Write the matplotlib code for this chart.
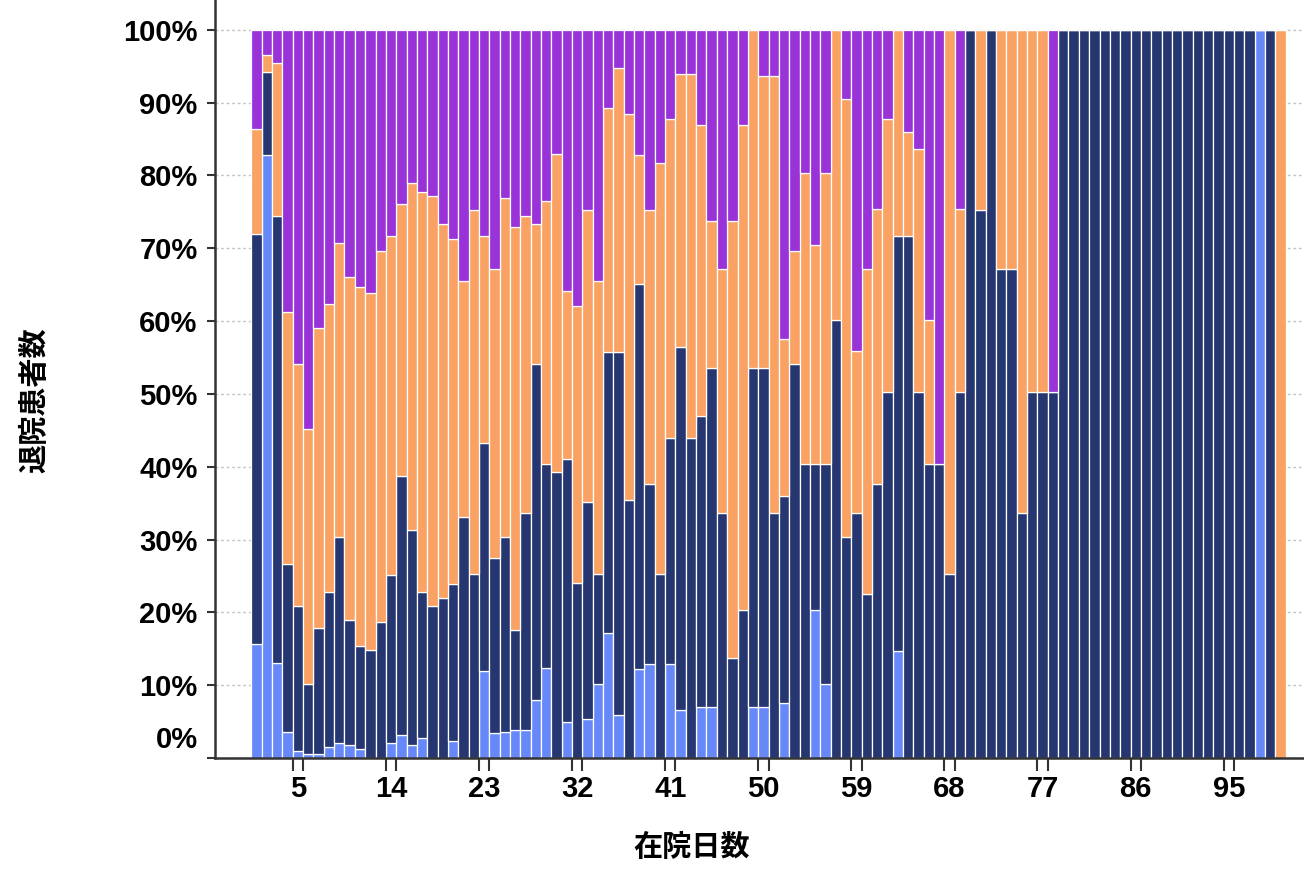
import matplotlib
matplotlib.use('Agg')
import matplotlib.pyplot as plt
import numpy as np

plt.rcParams['font.family'] = ['Liberation Sans', 'Noto Sans CJK JP']
plt.rcParams['font.weight'] = 'bold'

# 在院日数 1..100, 各区分の構成比(%)
days = np.arange(1, 101)

light_blue = [15.6, 82.8, 13.0, 3.6, 0.9, 0.5, 0.5, 1.5, 2.0, 1.8,
              1.2, 0, 0, 2.0, 3.1, 1.8, 2.8, 0, 0, 2.3,
              0, 0, 11.9, 3.5, 3.6, 3.9, 3.9, 8.0, 12.4, 0,
              5.0, 0, 5.3, 10.2, 17.1, 5.9, 0, 12.2, 12.9, 0,
              12.9, 6.6, 0, 7.0, 7.0, 0, 0, 0, 7.0, 7.0,
              0, 7.5, 0, 0, 20.3, 10.2, 0, 0, 0, 0,
              0, 0, 14.7, 0, 0, 0, 0, 0, 0, 0,
              0, 0, 0, 0, 0, 0, 0, 0, 0, 0,
              0, 0, 0, 0, 0, 0, 0, 0, 0, 0,
              0, 0, 0, 0, 0, 0, 0, 100, 0, 0]

navy = [56.4, 11.4, 61.5, 23.0, 20.0, 9.6, 17.4, 21.3, 28.3, 17.1,
        14.2, 14.9, 18.7, 23.1, 35.6, 29.5, 20.0, 20.9, 22.0, 21.6,
        33.1, 25.3, 31.3, 24.0, 26.7, 13.7, 29.7, 46.1, 28.0, 39.3,
        36.1, 24.1, 29.8, 15.1, 38.6, 49.8, 35.5, 52.9, 24.7, 25.3,
        31.1, 49.9, 44.0, 39.9, 46.5, 33.6, 13.7, 20.3, 46.5, 46.5,
        33.6, 28.5, 54.1, 40.4, 20.1, 30.2, 60.2, 30.3, 33.6, 22.5,
        37.6, 50.2, 57.0, 71.7, 50.2, 40.4, 40.4, 25.3, 50.2, 100,
        75.3, 100, 67.1, 67.1, 33.6, 50.2, 50.2, 50.2, 100, 100,
        100, 100, 100, 100, 100, 100, 100, 100, 100, 100,
        100, 100, 100, 100, 100, 100, 100, 0, 100, 0]

orange = [14.4, 2.3, 20.9, 34.7, 33.2, 35.1, 41.2, 39.6, 40.4, 47.1,
          49.3, 48.9, 50.9, 46.6, 37.4, 47.6, 55.0, 56.3, 51.3, 47.4,
          32.4, 50.0, 28.5, 39.6, 46.6, 55.3, 40.9, 19.2, 36.1, 43.7,
          23.0, 38.0, 40.2, 40.2, 33.6, 39.1, 53.0, 17.7, 37.7, 56.4,
          43.7, 37.4, 49.9, 40.0, 20.2, 33.5, 60.0, 66.6, 46.5, 40.2,
          60.1, 21.6, 15.5, 40.0, 30.0, 40.0, 39.8, 60.2, 22.3, 44.6,
          37.8, 37.5, 28.3, 14.3, 33.4, 19.8, 0, 74.7, 25.2, 0,
          24.7, 0, 32.9, 32.9, 66.4, 49.8, 49.8, 0, 0, 0,
          0, 0, 0, 0, 0, 0, 0, 0, 0, 0,
          0, 0, 0, 0, 0, 0, 0, 0, 0, 100]

purple = [13.6, 3.5, 4.6, 38.7, 45.9, 54.8, 40.9, 37.6, 29.3, 34.0,
          35.3, 36.2, 30.4, 28.3, 23.9, 21.1, 22.2, 22.8, 26.7, 28.7,
          34.5, 24.7, 28.3, 32.9, 23.1, 27.1, 25.5, 26.7, 23.5, 17.0,
          35.9, 37.9, 24.7, 34.5, 10.7, 5.2, 11.5, 17.2, 24.7, 18.3,
          12.3, 6.1, 6.1, 13.1, 26.3, 32.9, 26.3, 13.1, 0, 6.3,
          6.3, 42.4, 30.4, 19.6, 29.6, 19.6, 0, 9.5, 44.1, 32.9,
          24.6, 12.3, 0, 14.0, 16.4, 39.8, 59.6, 0, 24.6, 0,
          0, 0, 0, 0, 0, 0, 0, 49.8, 0, 0,
          0, 0, 0, 0, 0, 0, 0, 0, 0, 0,
          0, 0, 0, 0, 0, 0, 0, 0, 0, 0]

series = [light_blue, navy, orange, purple]
colors = ['#6688f8', '#253670', '#f9a264', '#9933d8']

x_ticks = [5, 14, 23, 32, 41, 50, 59, 68, 77, 86, 95]
y_ticks = [0, 10, 20, 30, 40, 50, 60, 70, 80, 90, 100]

fig = plt.figure(figsize=(13.04, 8.77), dpi=100)
ax = fig.add_axes([215 / 1304, 1 - 758 / 877, 1 - 215 / 1304, 758 / 877])

bottom = np.zeros(len(days))
for vals, c in zip(series, colors):
    vals = np.array(vals, dtype=float)
    ax.bar(days, vals, width=1.0, bottom=bottom, color=c,
           edgecolor='white', linewidth=0.9, zorder=2)
    bottom += vals

ax.set_xlim(-3.02, 102.27)
ax.set_ylim(0, 104.1)

# y axis
ax.set_yticks(y_ticks)
ax.set_yticklabels(['' if v == 0 else f'{v}%' for v in y_ticks])
ax.tick_params(axis='y', direction='out', length=6, width=1.5,
               color='#333333', labelsize=21, pad=6.5)
ax.annotate('0%', xy=(0, 0), xycoords=('axes fraction', 'data'),
            xytext=(-17, 18), textcoords='offset pixels',
            ha='right', va='center', fontsize=21, fontweight='bold')
ax.yaxis.grid(True, linestyle=(0, (2, 2)), color='#c4c4c4', linewidth=1)
ax.set_axisbelow(True)

# x axis: labels on the chosen days, tick marks at both bar edges
ax.set_xticks(x_ticks)
ax.set_xticklabels([str(v) for v in x_ticks])
ax.tick_params(axis='x', which='major', length=0, labelsize=21, pad=12)
ax.set_xticks([v + d for v in x_ticks for d in (-0.5, 0.5)], minor=True)
ax.tick_params(axis='x', which='minor', length=9, width=1.5, color='#333333')

for s in ['top', 'right']:
    ax.spines[s].set_visible(False)
for s in ['left', 'bottom']:
    ax.spines[s].set_color('#333333')
    ax.spines[s].set_linewidth(1.8)

fig.text(35 / 1304, 1 - 400 / 877, '退院患者数', rotation=90,
         ha='center', va='center', fontsize=21, fontweight='bold')
fig.text(692 / 1304, 1 - 848 / 877, '在院日数',
         ha='center', va='center', fontsize=21, fontweight='bold')

fig.savefig('out.png', dpi=100)
